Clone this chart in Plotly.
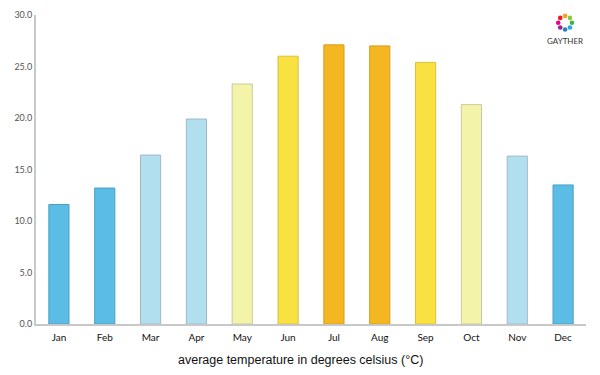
import plotly.graph_objects as go
import math

months = ["Jan", "Feb", "Mar", "Apr", "May", "Jun", "Jul", "Aug", "Sep", "Oct", "Nov", "Dec"]
temps = [11.6, 13.2, 16.4, 19.9, 23.3, 26.0, 27.1, 27.0, 25.4, 21.3, 16.3, 13.5]
fill_colors = ["#5bbde6", "#5bbde6", "#b2dff0", "#b2dff0", "#f3f4a9", "#f9e142",
               "#f4b722", "#f4b722", "#f9e142", "#f3f4a9", "#b2dff0", "#5bbde6"]
line_colors = ["#4a9fc4", "#4a9fc4", "#9fb8c4", "#9fb8c4", "#c9c9a0", "#d9c23a",
               "#d99c1c", "#d99c1c", "#d9c23a", "#c9c9a0", "#9fb8c4", "#4a9fc4"]
y_ticks = [0, 5, 10, 15, 20, 25, 30]

fig = go.Figure(go.Bar(
    x=months, y=temps, width=0.44,
    marker=dict(color=fill_colors, line=dict(color=line_colors, width=1)),
    hoverinfo="x+y",
))

# logo: ring of colored dots + text
logo_colors = ["#f9a11b", "#8dc63f", "#39b54a", "#27aae1", "#2e7fc1", "#92278f", "#ec008c", "#ed1c24"]
cx, cy, rx, ry = 0.962, 0.975, 0.0125, 0.022
shapes = []
for i, c in enumerate(logo_colors):
    a = math.pi / 2 - i * 2 * math.pi / len(logo_colors)
    x0 = cx + rx * math.cos(a)
    y0 = cy + ry * math.sin(a)
    shapes.append(dict(type="circle", xref="paper", yref="paper",
                       x0=x0 - 0.0042, x1=x0 + 0.0042, y0=y0 - 0.0075, y1=y0 + 0.0075,
                       fillcolor=c, line=dict(width=0)))

fig.update_layout(
    width=592, height=367,
    margin=dict(l=28, r=14, t=7, b=51, autoexpand=False),
    paper_bgcolor="white", plot_bgcolor="white",
    showlegend=False,
    shapes=shapes,
    xaxis=dict(
        range=[-0.5, 11.5], showline=True, linecolor="#c8c8c8", linewidth=1.5,
        showgrid=False, ticks="", ticklabelstandoff=3,
        tickfont=dict(family="Lato", size=10, color="#111"),
    ),
    yaxis=dict(
        range=[0, 30], tickvals=y_ticks, tickformat=".1f",
        showline=True, linecolor="#c8c8c8", linewidth=2, showgrid=False,
        zeroline=False, ticks="", ticklen=0,
        tickfont=dict(family="Lato", size=9, color="#555"),
    ),
    annotations=[
        dict(text="GAYTHER", xref="paper", yref="paper", x=0.962, y=0.916,
             xanchor="center", yanchor="middle", showarrow=False,
             font=dict(family="Lato", size=8, color="#333")),
        dict(text="average temperature in degrees celsius (°C)", xref="paper", yref="paper",
             x=0.48, y=-0.115, xanchor="center", yanchor="middle", showarrow=False,
             font=dict(family="Liberation Sans, Arial", size=12.5, color="#111")),
    ],
)

fig.write_html("out.html")
